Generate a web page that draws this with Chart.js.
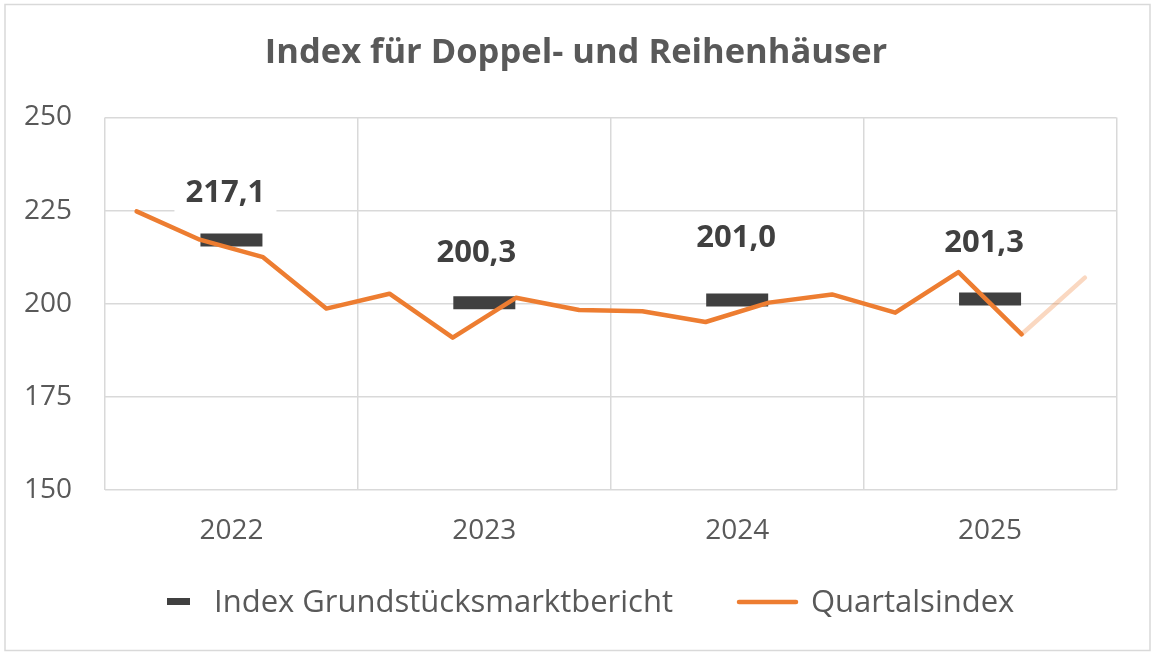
<!DOCTYPE html>
<html>
<head>
<meta charset="utf-8">
<title>Index für Doppel- und Reihenhäuser</title>
<script src="https://cdn.jsdelivr.net/npm/chart.js@4.4.1/dist/chart.umd.min.js"></script>
<style>
    html, body { margin: 0; padding: 0; background: #ffffff; }
    #rahmen { width: 1155px; height: 658px; position: relative; }
</style>
</head>
<body>
<div id="rahmen"><canvas id="chartDoppelReihen"></canvas></div>
<script>
// Werte
var jahre = ["2022", "2023", "2024", "2025"];
var indexGrundstuecksmarkt = [217.1, 200.3, 201.0, 201.3];
var quartalsindex = [224.8, 217.2, 212.5, 198.7, 202.7, 190.9, 201.6, 198.3,
                     198.0, 195.1, 200.3, 202.5, 197.6, 208.5, 191.8, 207.0];
var yAchse = [150, 175, 200, 225, 250];

var orange = "#ED7D31";
var orangeBlass = "rgba(237, 125, 49, 0.3)";
var dunkel = "#404040";
var grau = "#595959";
var gitter = "#d9d9d9";
var schrift = "'Open Sans', sans-serif";

// jedes Jahr hat 4 Quartale auf der x-Achse
var quartaleProJahr = 4;

var punkteQuartal = quartalsindex.map(function (wert, i) {
    return { x: i + 0.5, y: wert };
});
var punkteJahr = indexGrundstuecksmarkt.map(function (wert, i) {
    return { x: i * quartaleProJahr + quartaleProJahr / 2, y: wert };
});

// kleine Verschiebungen der Beschriftungen wie im Original
var labelVersatzX = [-6, -8, -1, -6];
var labelVersatzY = [-38, -41, -53, -47];

var rahmenPlugin = {
    id: "rahmen",
    beforeDraw: function (chart) {
        var ctx = chart.ctx;
        ctx.save();
        ctx.fillStyle = "#ffffff";
        ctx.fillRect(0, 0, chart.width, chart.height);
        ctx.strokeStyle = gitter;
        ctx.lineWidth = 1.5;
        ctx.strokeRect(5, 4.5, 1145, 646);
        ctx.restore();
    },
    afterDraw: function (chart) {
        var ctx = chart.ctx;
        ctx.save();
        // Titel
        ctx.fillStyle = grau;
        ctx.font = "bold 34.5px " + schrift;
        ctx.textAlign = "center";
        ctx.textBaseline = "alphabetic";
        ctx.fillText("Index für Doppel- und Reihenhäuser", 576, 63);

        // Legende
        ctx.font = "31px " + schrift;
        ctx.textAlign = "left";
        ctx.fillStyle = dunkel;
        ctx.fillRect(167, 598, 23, 7);
        ctx.fillStyle = grau;
        ctx.fillText("Index Grundstücksmarktbericht", 214, 612);
        ctx.strokeStyle = orange;
        ctx.lineWidth = 4.5;
        ctx.lineCap = "round";
        ctx.beginPath();
        ctx.moveTo(739, 602);
        ctx.lineTo(796, 602);
        ctx.stroke();
        ctx.fillText("Quartalsindex", 811, 612);
        ctx.restore();
    }
};

var wertePlugin = {
    id: "werte",
    afterDatasetsDraw: function (chart) {
        var ctx = chart.ctx;
        var meta = chart.getDatasetMeta(1);
        ctx.save();
        ctx.font = "bold 31px " + schrift;
        ctx.textAlign = "center";
        ctx.textBaseline = "alphabetic";
        meta.data.forEach(function (punkt, i) {
            var x = punkt.x + labelVersatzX[i];
            var y = punkt.y + labelVersatzY[i];
            ctx.fillStyle = "#ffffff";
            ctx.fillRect(x - 51, y - 33, 102, 44);
            ctx.fillStyle = dunkel;
            ctx.fillText(indexGrundstuecksmarkt[i].toFixed(1).replace(".", ","), x, y);
        });
        ctx.restore();
    }
};

var config = {
    type: "line",
    data: {
        datasets: [
            {
                label: "Quartalsindex",
                data: punkteQuartal,
                borderColor: orange,
                borderWidth: 4.5,
                borderJoinStyle: "round",
                borderCapStyle: "round",
                pointRadius: 0,
                tension: 0,
                segment: {
                    // letztes Quartal blass dargestellt
                    borderColor: function (ctx) {
                        return ctx.p1DataIndex === quartalsindex.length - 1 ? orangeBlass : undefined;
                    }
                }
            },
            {
                label: "Index Grundstücksmarktbericht",
                data: punkteJahr,
                showLine: false,
                pointStyle: "line",
                pointRadius: 31,
                pointHoverRadius: 31,
                pointBorderWidth: 13,
                pointBorderColor: dunkel,
                pointBackgroundColor: dunkel
            }
        ]
    },
    options: {
        responsive: true,
        maintainAspectRatio: false,
        animation: false,
        devicePixelRatio: 1,
        layout: {
            autoPadding: false,
            padding: { top: 117.5, right: 38.5, bottom: 0, left: 0 }
        },
        plugins: {
            legend: { display: false },
            title: { display: false },
            tooltip: { enabled: false }
        },
        scales: {
            x: {
                type: "linear",
                min: 0,
                max: jahre.length * quartaleProJahr,
                afterBuildTicks: function (scale) {
                    var ticks = [];
                    for (var v = 0; v <= jahre.length * quartaleProJahr; v += quartaleProJahr / 2) {
                        ticks.push({ value: v });
                    }
                    scale.ticks = ticks;
                },
                afterFit: function (scale) {
                    scale.height = 168;
                    scale.paddingLeft = 0;
                    scale.paddingRight = 0;
                },
                ticks: {
                    autoSkip: false,
                    maxRotation: 0,
                    padding: 24,
                    color: grau,
                    font: { family: schrift, size: 28 },
                    callback: function (wert) {
                        if (wert % quartaleProJahr === quartaleProJahr / 2) {
                            return jahre[(wert - quartaleProJahr / 2) / quartaleProJahr];
                        }
                        return "";
                    }
                },
                grid: {
                    drawTicks: false,
                    lineWidth: 1.5,
                    color: function (ctx) {
                        return ctx.tick && ctx.tick.value % quartaleProJahr === 0 ? gitter : "rgba(0,0,0,0)";
                    }
                },
                border: { display: false }
            },
            y: {
                min: 150,
                max: 250,
                afterBuildTicks: function (scale) {
                    scale.ticks = yAchse.map(function (v) { return { value: v }; });
                },
                afterFit: function (scale) {
                    scale.width = 105;
                },
                ticks: {
                    padding: 33,
                    color: grau,
                    font: { family: schrift, size: 28 }
                },
                grid: {
                    drawTicks: false,
                    lineWidth: 1.5,
                    color: gitter
                },
                border: { display: false }
            }
        }
    },
    plugins: [rahmenPlugin, wertePlugin]
};

var myChartLine = new Chart(document.getElementById("chartDoppelReihen"), config);
</script>
</body>
</html>
